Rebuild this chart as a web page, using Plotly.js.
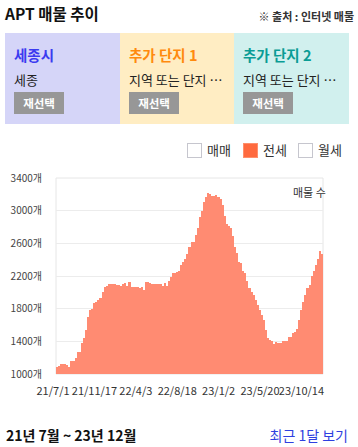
<!DOCTYPE html>
<html>
<head>
<meta charset="utf-8">
<script src="https://cdn.plot.ly/plotly-3.0.1.min.js"></script>
<style>
  html, body { margin: 0; padding: 0; background: #fff; }
  body { font-family: "Noto Sans CJK KR", "Noto Sans", sans-serif; color: #222; }
  #wrap { position: relative; width: 358px; height: 447px; overflow: hidden; }
  #chart { position: absolute; left: 0; top: 0; width: 358px; height: 447px; }
  .abs { position: absolute; white-space: nowrap; }
  .box { position: absolute; top: 33px; height: 91px; }
  .box .t { position: absolute; left: 9px; top: 12px; line-height: 20px; font-size: 14.5px; font-weight: bold; }
  .box .s { position: absolute; left: 9px; top: 38px; line-height: 18px; font-size: 13px; color: #222; }
  .box .b { position: absolute; left: 9px; top: 59px; width: 50px; height: 22px; background: #979797; color: #fff;
            font-size: 11.5px; font-weight: bold; line-height: 22px; text-align: center; }
  .chk { position: absolute; top: 143px; width: 13px; height: 13px; border: 1px solid #c6c6ce; background: #fff; }
  .lg { position: absolute; top: 141px; line-height: 18px; font-size: 13px; color: #333; }
</style>
</head>
<body>
<div id="wrap">
  <div id="chart"></div>

  <div class="abs" style="left:5px; top:3px; line-height:20px; font-size:15.5px; font-weight:bold; color:#111;">APT 매물 추이</div>
  <div class="abs" style="right:4px; top:9px; line-height:15px; font-size:11px; font-weight:bold; color:#333;">※ 출처 : 인터넷 매물</div>

  <div class="box" style="left:5px; width:115px; background:#d5d5f8;">
    <div class="t" style="color:#3b3bf0;">세종시</div>
    <div class="s">세종</div>
    <div class="b">재선택</div>
  </div>
  <div class="box" style="left:120px; width:114px; background:#ffedc3;">
    <div class="t" style="color:#ff8a0d;">추가 단지 1</div>
    <div class="s">지역 또는 단지 …</div>
    <div class="b">재선택</div>
  </div>
  <div class="box" style="left:234px; width:115px; background:#d1f0ee;">
    <div class="t" style="color:#0a9c95;">추가 단지 2</div>
    <div class="s">지역 또는 단지 …</div>
    <div class="b">재선택</div>
  </div>

  <div class="chk" style="left:187px;"></div>
  <div class="lg" style="left:207px;">매매</div>
  <div class="chk" style="left:243px; background:#ff6a3f; border-color:#ff8f6c;"></div>
  <div class="lg" style="left:263px;">전세</div>
  <div class="chk" style="left:298px;"></div>
  <div class="lg" style="left:318px;">월세</div>

  <div class="abs" style="left:6px; top:425px; line-height:20px; font-size:14px; font-weight:bold; color:#111;">21년 7월 ~ 23년 12월</div>
  <div class="abs" style="right:10px; top:425px; line-height:20px; font-size:14px; color:#2f3fe0;">최근 1달 보기</div>
</div>

<script>
// Weekly categories (date labels)
const dates = [
  '21/7/1','21/7/8','21/7/15','21/7/22','21/7/29','21/8/5','21/8/12','21/8/19','21/8/26','21/9/2',
  '21/9/9','21/9/16','21/9/23','21/9/30','21/10/7','21/10/14','21/10/21','21/10/28','21/11/4','21/11/11',
  '21/11/17','21/11/24','21/12/1','21/12/8','21/12/15','21/12/22','21/12/29','22/1/5','22/1/12','22/1/19',
  '22/1/26','22/2/2','22/2/9','22/2/16','22/2/23','22/3/2','22/3/9','22/3/16','22/3/23','22/3/30',
  '22/4/3','22/4/10','22/4/17','22/4/24','22/5/1','22/5/8','22/5/15','22/5/22','22/5/29','22/6/5',
  '22/6/12','22/6/19','22/6/26','22/7/3','22/7/10','22/7/17','22/7/24','22/7/31','22/8/7','22/8/14',
  '22/8/18','22/8/25','22/9/1','22/9/8','22/9/15','22/9/22','22/9/29','22/10/6','22/10/13','22/10/20',
  '22/10/27','22/11/3','22/11/10','22/11/17','22/11/24','22/12/1','22/12/8','22/12/15','22/12/22','22/12/29',
  '23/1/2','23/1/9','23/1/16','23/1/23','23/1/30','23/2/6','23/2/13','23/2/20','23/2/27','23/3/6',
  '23/3/13','23/3/20','23/3/27','23/4/3','23/4/10','23/4/17','23/4/24','23/5/1','23/5/8','23/5/15',
  '23/5/20','23/5/27','23/6/3','23/6/10','23/6/17','23/6/24','23/7/1','23/7/8','23/7/15','23/7/22',
  '23/7/29','23/8/5','23/8/12','23/8/19','23/8/26','23/9/2','23/9/9','23/9/16','23/9/23','23/9/30',
  '23/10/14','23/10/21','23/10/28','23/11/4','23/11/11','23/11/18','23/11/25','23/12/2','23/12/9'
];

// 전세 listing counts
const jeonse = [
  1085,1100,1120,1122,1122,1110,1090,1160,1160,1200,
  1270,1275,1376,1437,1540,1700,1785,1800,1870,1878,
  1908,1930,2000,2060,2072,2100,2100,2098,2108,2085,
  2084,2082,2100,2112,2080,2125,2060,2062,2062,2060,
  2050,2060,2030,2125,2125,2112,2100,2108,2100,2104,
  2104,2072,2112,2080,2141,2186,2239,2231,2243,2256,
  2329,2370,2411,2470,2550,2611,2620,2706,2787,2918,
  2990,3102,3164,3217,3200,3176,3184,3190,3170,3140,
  3074,2930,2836,2808,2787,2685,2560,2481,2370,2358,
  2256,2235,2141,2059,2010,1969,1908,1847,1785,1724,
  1663,1540,1446,1417,1405,1372,1397,1385,1385,1409,
  1409,1400,1450,1458,1499,1511,1552,1663,1785,1887,
  1969,2051,2092,2194,2256,2337,2410,2509,2470
];

const xTickDates = ['21/7/1','21/11/17','22/4/3','22/8/18','23/1/2','23/5/20','23/10/14'];
const yTickVals = [1000,1400,1800,2200,2600,3000,3400];
const yTickText = ['1000개','1400개','1800개','2200개','2600개','3000개','3400개'];
const seriesName = '매물 수';

const trace = {
  type: 'bar',
  x: dates,
  y: jeonse,
  marker: { color: '#ff8b72', line: { width: 0 } },
  hoverinfo: 'none'
};

const layout = {
  width: 358, height: 447,
  margin: { l: 56, r: 35, t: 178, b: 73, pad: 0 },
  paper_bgcolor: 'rgba(0,0,0,0)',
  plot_bgcolor: 'rgba(0,0,0,0)',
  bargap: 0,
  showlegend: false,
  font: { family: '"Noto Sans CJK KR", "Noto Sans", sans-serif', color: '#333' },
  xaxis: {
    type: 'category',
    range: [-0.5, dates.length - 0.5],
    tickmode: 'array',
    tickvals: xTickDates,
    ticktext: xTickDates,
    tickangle: 0,
    ticks: '',
    showgrid: false,
    zeroline: false,
    showline: false,
    tickfont: { size: 11, color: '#333' },
    ticklabelstandoff: 9,
    ticklabelshift: -4,
    fixedrange: true
  },
  yaxis: {
    range: [1000, 3400],
    tickmode: 'array',
    tickvals: yTickVals,
    ticktext: yTickText,
    ticks: '',
    showgrid: true,
    gridcolor: '#ececec',
    gridwidth: 1,
    zeroline: false,
    showline: false,
    tickfont: { size: 10, color: '#444' },
    ticklabelstandoff: 13,
    fixedrange: true
  },
  shapes: [{
    type: 'rect', xref: 'paper', yref: 'paper', x0: 0, x1: 1, y0: 0, y1: 1,
    line: { color: '#e6e6e6', width: 1 }, layer: 'below'
  }],
  annotations: [{
    text: seriesName, xref: 'paper', yref: 'paper', x: 1, y: 1,
    xanchor: 'right', yanchor: 'top', xshift: 5, yshift: -4,
    showarrow: false, font: { size: 11, color: '#333' }
  }]
};

Plotly.newPlot('chart', [trace], layout, { staticPlot: true, displayModeBar: false });
</script>
</body>
</html>
